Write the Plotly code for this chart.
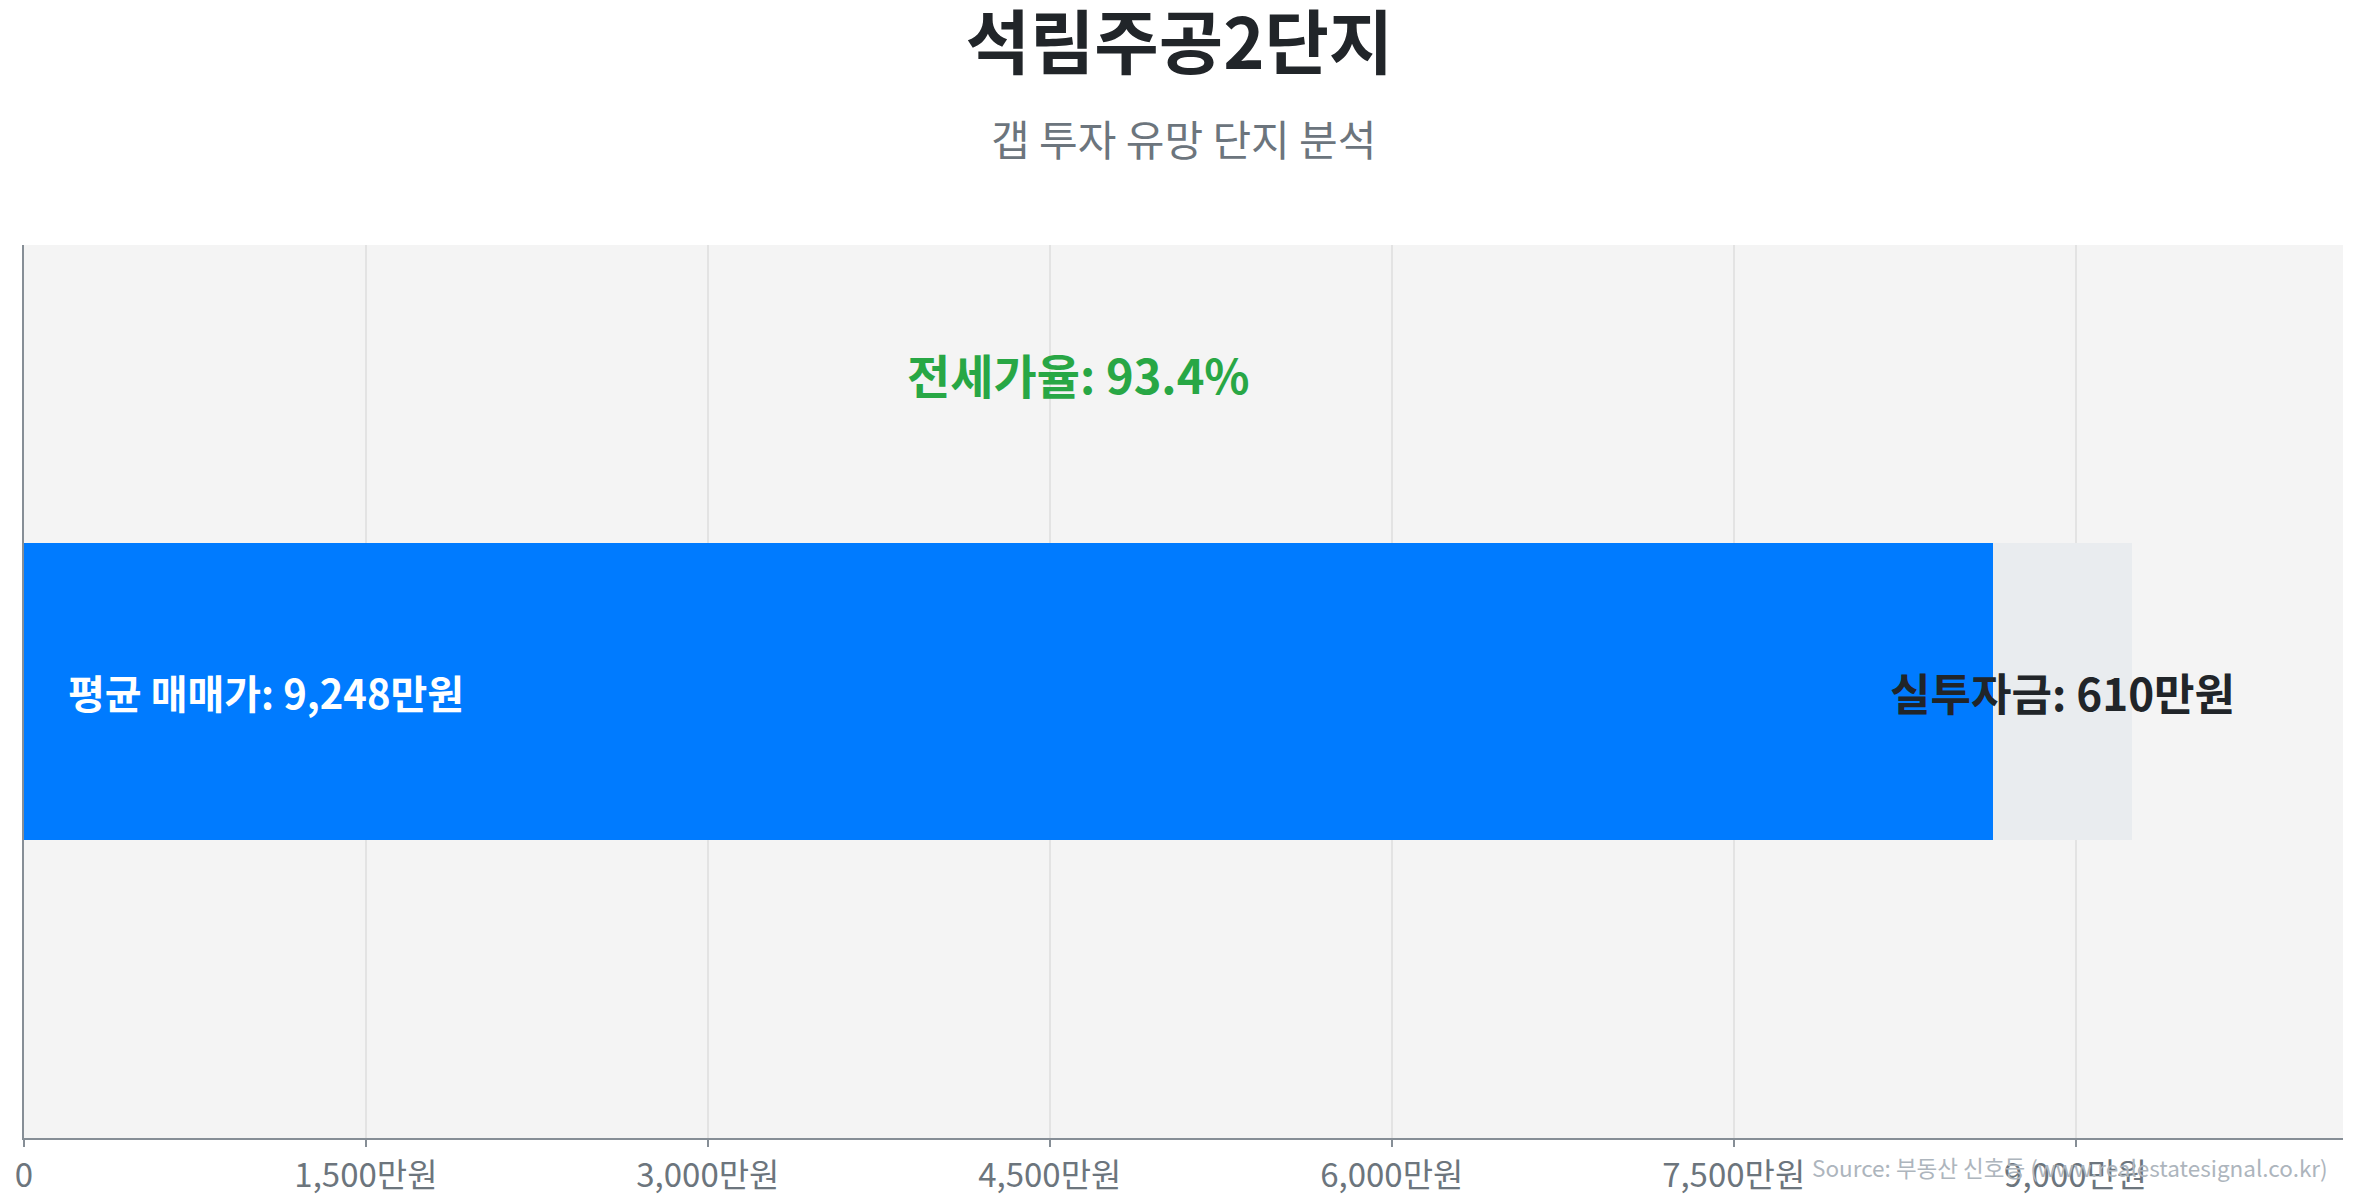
import plotly.graph_objects as go

# 단지 데이터 (단위: 만원)
complex_name = "석림주공2단지"
subtitle = "갭 투자 유망 단지 분석"
avg_price = [9248]
jeonse_price = [8638]
gap_amount = [610]
jeonse_ratio = 93.4

tick_vals = [0, 1500, 3000, 4500, 6000, 7500, 9000]
tick_text = ["0", "1,500만원", "3,000만원", "4,500만원", "6,000만원", "7,500만원", "9,000만원"]

FONT = "Noto Sans CJK KR"
BLUE = "#007bff"
GAP_GREY = "#e9ecef"
GREEN = "#28a745"
DARK = "#212529"
MUTED = "#6c757d"

fig = go.Figure()
fig.add_trace(go.Bar(y=[0], x=jeonse_price, orientation="h", width=1,
                     marker=dict(color=BLUE, line=dict(width=0)),
                     name="전세가", hoverinfo="skip"))
fig.add_trace(go.Bar(y=[0], x=gap_amount, orientation="h", width=1,
                     marker=dict(color=GAP_GREY, line=dict(width=0)),
                     name="실투자금", hoverinfo="skip"))

fig.update_layout(
    barmode="stack",
    width=2357, height=1200,
    margin=dict(l=16, r=22, t=237, b=70, autoexpand=False),
    paper_bgcolor="white",
    plot_bgcolor="#f4f4f4",
    showlegend=False,
    font=dict(family=FONT, color=MUTED),
    title=dict(text=complex_name, x=0.497, xref="container", xanchor="center",
               y=1 - 36 / 1200, yref="container", yanchor="middle",
               font=dict(family=FONT, size=70, color=DARK, weight="bold")),
)

fig.update_xaxes(range=[0, avg_price[0] * 1.1], tickvals=tick_vals, ticktext=tick_text,
                 tickfont=dict(family=FONT, size=33, color=MUTED),
                 showgrid=True, gridcolor="#e3e3e3", gridwidth=1.5,
                 showline=True, linecolor="#868e96", linewidth=2,
                 ticks="outside", ticklen=7, tickcolor="#868e96", tickwidth=2,
                 zeroline=False, fixedrange=True)
fig.update_yaxes(range=[-1.5, 1.5], showticklabels=False, showgrid=False,
                 showline=True, linecolor="#868e96", linewidth=2,
                 zeroline=False, fixedrange=True)

# 부제목
fig.add_annotation(text=subtitle, xref="paper", yref="paper", x=0.5, y=1 + (237 - 129) / 893,
                   xanchor="center", yanchor="middle", showarrow=False,
                   font=dict(family=FONT, size=42, color=MUTED))

# 전세가율
fig.add_annotation(text=f"전세가율: {jeonse_ratio}%", x=avg_price[0] / 2, y=1.07,
                   xanchor="center", yanchor="middle", showarrow=False,
                   font=dict(family=FONT, size=47, color=GREEN, weight="bold"))

# 평균 매매가 (막대 안쪽 왼쪽)
fig.add_annotation(text=f"평균 매매가: {avg_price[0]:,}만원", x=0, y=0, xshift=42,
                   xanchor="left", yanchor="middle", showarrow=False,
                   font=dict(family=FONT, size=40, color="white", weight="bold"))

# 실투자금 (갭 구간 가운데)
fig.add_annotation(text=f"실투자금: {gap_amount[0]:,}만원", x=jeonse_price[0] + gap_amount[0] / 2, y=0,
                   xanchor="center", yanchor="middle", showarrow=False,
                   font=dict(family=FONT, size=44, color=DARK, weight="bold"))

# 출처
fig.add_annotation(text="Source: 부동산 신호등 (www.realestatesignal.co.kr)",
                   xref="paper", yref="paper", x=1, y=-29 / 893, xshift=-13,
                   xanchor="right", yanchor="middle", showarrow=False,
                   font=dict(family=FONT, size=22.5, color="#adb5bd"))

fig.write_html("out.html", config={"displayModeBar": False})
